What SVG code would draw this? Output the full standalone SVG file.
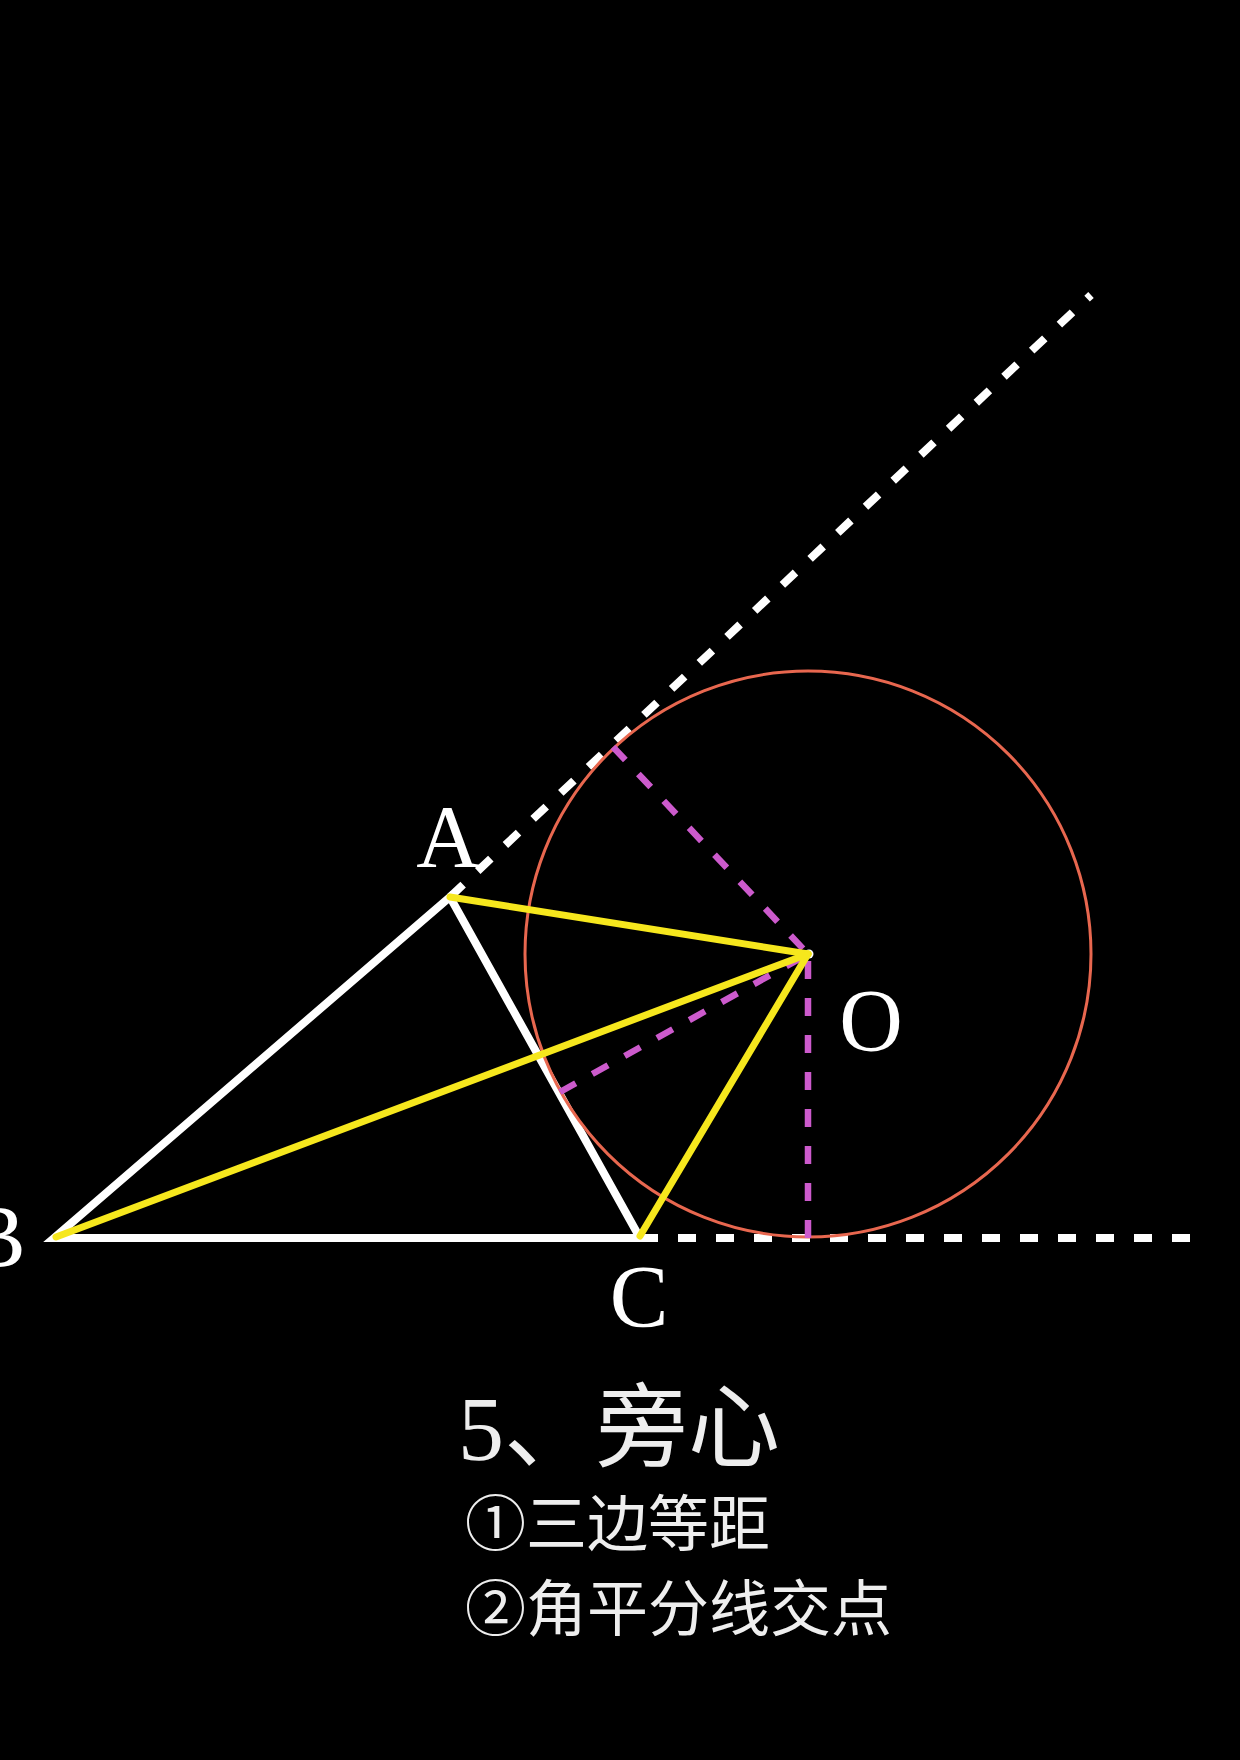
<svg xmlns="http://www.w3.org/2000/svg" width="1240" height="1760" viewBox="0 0 1240 1760">
<style>
.wdash{stroke:#ffffff;stroke-width:8;stroke-dasharray:18 20;fill:none}
.side{stroke:#ffffff;stroke-width:8;fill:none;stroke-linejoin:miter}
.perp{stroke:#cc5acc;stroke-width:6.5;stroke-dasharray:18 19;fill:none}
.yel{stroke:#f6e71d;stroke-width:7;stroke-linecap:round;fill:none}
.lbl{font-family:"Liberation Serif","Times New Roman",serif;font-size:88px;fill:#ffffff}
.cap{font-family:"Liberation Serif","Noto Sans CJK SC",serif;fill:#eeeeee}
</style>
<rect x="0" y="0" width="1240" height="1760" fill="#000000"/>
<g id="connectors">
<line class="wdash" x1="450" y1="897" x2="1091" y2="295"/>
<line class="wdash" x1="640" y1="1238" x2="1190" y2="1238"/>
<polygon id="triangle" class="side" points="54,1238 450,897 640,1238"/>
<circle id="excircle" cx="808" cy="954" r="283" fill="none" stroke="#e8674f" stroke-width="3"/>
<line class="perp" x1="613" y1="747" x2="808" y2="954"/>
<line class="perp" x1="560" y1="1092" x2="808" y2="954"/>
<line class="perp" x1="808" y1="1238" x2="808" y2="954"/>
<circle cx="809" cy="954" r="4.5" fill="#ffffff"/>
<line class="yel" x1="450" y1="897" x2="808" y2="954"/>
<line class="yel" x1="56" y1="1237" x2="808" y2="954"/>
<line class="yel" x1="640" y1="1236" x2="808" y2="954"/>
</g>
<g id="node-A"><text class="lbl" x="448" y="866" text-anchor="middle">A</text></g>
<g id="node-B"><text class="lbl" x="-33" y="1266">B</text></g>
<g id="node-C"><text class="lbl" x="639" y="1326" text-anchor="middle">C</text></g>
<g id="node-O"><text class="lbl" x="871" y="1050" text-anchor="middle">O</text></g>
<g id="caption">
<text class="cap" x="458" y="1460" font-size="92">5、旁心</text>
<text class="cap" x="465" y="1546" font-size="61">①三边等距</text>
<text class="cap" x="465" y="1631" font-size="61">②角平分线交点</text>
</g>
</svg>
